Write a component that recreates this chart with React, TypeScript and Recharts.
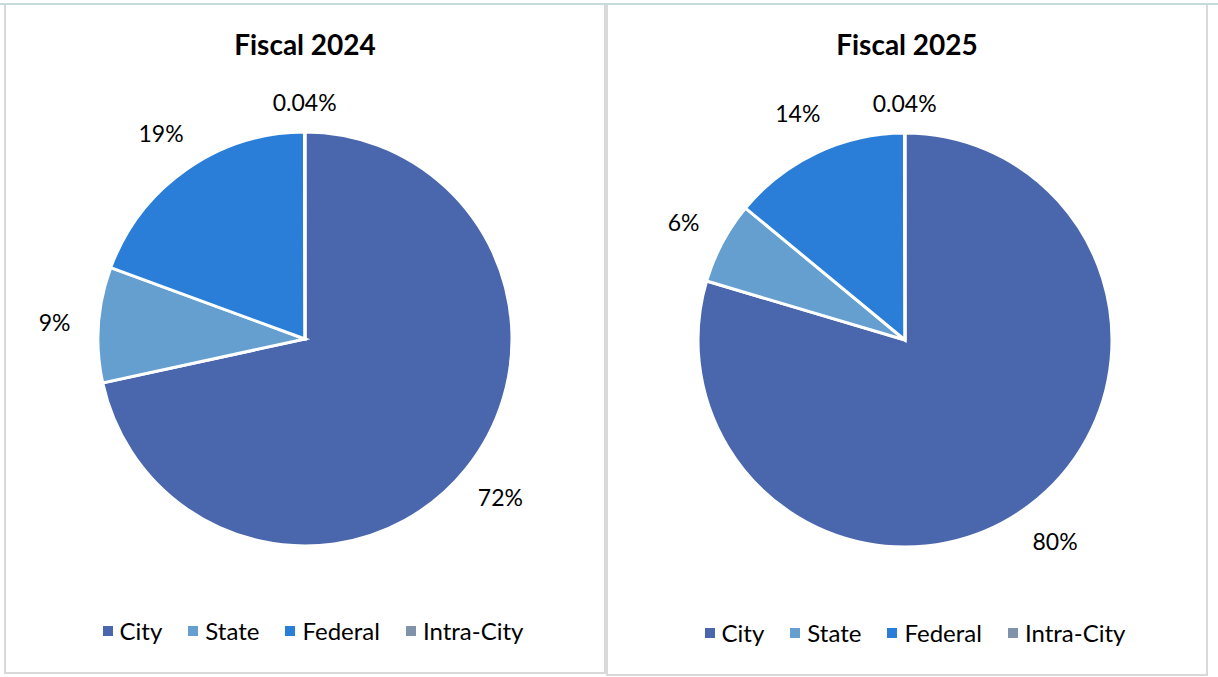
import React from 'react';
import { PieChart, Pie, Cell } from 'recharts';

const categories = ['City', 'State', 'Federal', 'Intra-City'];
const fiscal2024 = [71.6, 9.0, 19.36, 0.04];
const fiscal2025 = [79.6, 6.4, 13.96, 0.04];
const colors = ['#4a66ad', '#649fd0', '#2a7ed8', '#8193ab'];

const FONT = 'Lato, "Open Sans", sans-serif';
const RAD = Math.PI / 180;

const fmt = (v: number) => (v < 1 ? `${v.toFixed(2)}%` : `${Math.round(v)}%`);

const renderLabel = (props: any) => {
    const { cx, cy, midAngle, outerRadius, value } = props;
    const r = outerRadius + (value < 1 ? 30 : 44);
    const x = cx + r * Math.cos(-midAngle * RAD);
    const y = cy + r * Math.sin(-midAngle * RAD);
    return (
        <text x={x} y={y} fill="#000" fontSize={23} fontFamily={FONT} textAnchor="middle" dominantBaseline="central">
            {fmt(value)}
        </text>
    );
};

const Legend: React.FC = () => (
    <div style={{ display: 'flex', justifyContent: 'center', alignItems: 'center', fontFamily: FONT, fontSize: 24, color: '#000' }}>
        {categories.map((c, i) => (
            <div key={c} style={{ display: 'flex', alignItems: 'center', marginRight: i < categories.length - 1 ? 26 : 0 }}>
                <span style={{ width: 10, height: 10, background: colors[i], display: 'inline-block', marginRight: 7 }} />
                <span>{c}</span>
            </div>
        ))}
    </div>
);

interface PanelProps {
    title: string;
    values: number[];
    left: number;
    width: number;
    height: number;
    cx: number;
    cy: number;
    legendTop: number;
    legendShift: number;
}

const Panel: React.FC<PanelProps> = ({ title, values, left, width, height, cx, cy, legendTop, legendShift }) => {
    const data = categories.map((name, i) => ({ name, value: values[i] }));
    return (
        <div style={{ position: 'absolute', left, top: 5, width, height, borderLeft: '2px solid #d9d9d9', borderRight: '2px solid #d9d9d9', borderBottom: '2px solid #d9d9d9', background: '#fff' }}>
            <div style={{ position: 'absolute', top: 22, left: 0, width: '100%', textAlign: 'center', fontFamily: FONT, fontWeight: 700, fontSize: 28, color: '#000' }}>
                {title}
            </div>
            <div style={{ position: 'absolute', left: 0, top: 0 }}>
                <PieChart width={width} height={height} margin={{ top: 0, right: 0, bottom: 0, left: 0 }}>
                    <Pie
                        data={data}
                        dataKey="value"
                        cx={cx}
                        cy={cy}
                        outerRadius={207}
                        startAngle={90}
                        endAngle={-270}
                        stroke="#fff"
                        strokeWidth={3}
                        label={renderLabel}
                        labelLine={false}
                        isAnimationActive={false}
                    >
                        {data.map((d, i) => (
                            <Cell key={d.name} fill={colors[i]} />
                        ))}
                    </Pie>
                </PieChart>
            </div>
            <div style={{ position: 'absolute', top: legendTop, left: legendShift, width: '100%' }}>
                <Legend />
            </div>
        </div>
    );
};

export default function App() {
    return (
        <div style={{ position: 'absolute', left: 0, top: 0, width: 1218, height: 677, background: '#fff', overflow: 'hidden' }}>
            <div style={{ position: 'absolute', left: 0, top: 3, width: 1218, height: 2, background: '#c5dadd' }} />
            <Panel title="Fiscal 2024" values={fiscal2024} left={4} width={598} height={667} cx={299} cy={334} legendTop={611} legendShift={8} />
            <Panel title="Fiscal 2025" values={fiscal2025} left={606} width={598} height={669} cx={297} cy={335} legendTop={613} legendShift={8} />
        </div>
    );
}
